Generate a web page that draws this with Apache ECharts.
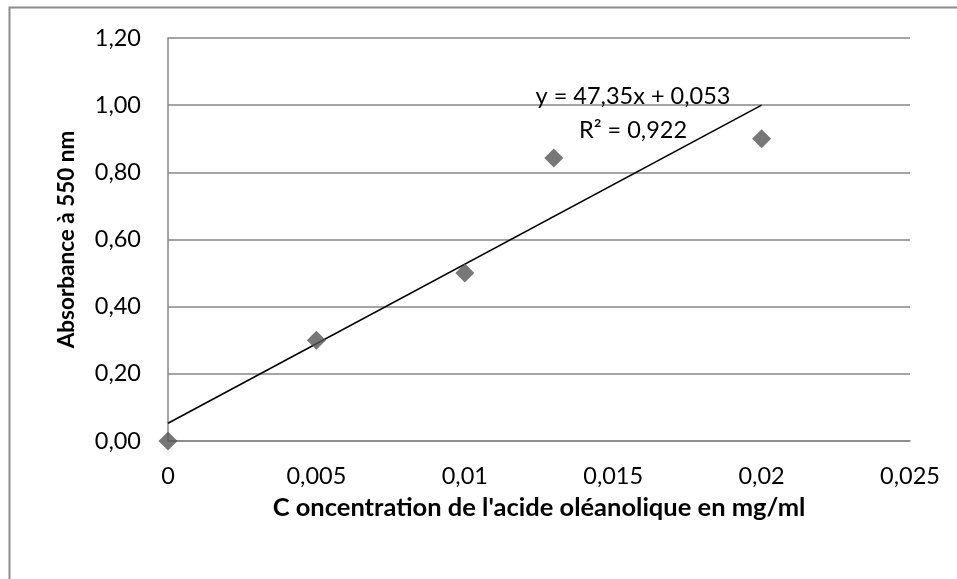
<!DOCTYPE html>
<html>
<head>
<meta charset="utf-8">
<script src="https://cdn.jsdelivr.net/npm/echarts@6/dist/echarts.min.js"></script>
<style>
  html, body { margin: 0; padding: 0; background: #ffffff; }
  #chart { width: 957px; height: 579px; }
</style>
</head>
<body>
<div id="chart"></div>
<script>
// Measured samples: concentration (mg/ml) and absorbance at 550 nm
var concentrations = [0, 0.005, 0.01, 0.013, 0.02];
var absorbances = [0, 0.30, 0.50, 0.843, 0.90];

// Linear fit reported on the chart
var fitSlope = 47.35;
var fitIntercept = 0.053;
var fitRange = [0, 0.02];

// Axis tick labels (French decimal comma)
var xTickLabels = ['0', '0,005', '0,01', '0,015', '0,02', '0,025'];
var yTickLabels = ['0,00', '0,20', '0,40', '0,60', '0,80', '1,00', '1,20'];

var FONT = 'Lato';
var GRID_COLOR = '#868686';

var points = concentrations.map(function (c, i) { return [c, absorbances[i]]; });
var fitLine = fitRange.map(function (x) { return [x, fitSlope * x + fitIntercept]; });

function fmtFit(v, digits) {
  return v.toFixed(digits).replace('.', ',');
}

var chart = echarts.init(document.getElementById('chart'), null, { renderer: 'canvas' });

chart.setOption({
  backgroundColor: '#ffffff',
  animation: false,
  grid: { left: 168, right: 47, top: 38, bottom: 138 },
  xAxis: {
    type: 'value',
    min: 0,
    max: 0.025,
    interval: 0.005,
    name: 'C oncentration de l\'acide oléanolique en mg/ml',
    nameLocation: 'middle',
    nameGap: 54,
    nameTextStyle: { fontFamily: FONT, fontWeight: 'bold', fontSize: 25.5, color: '#000' },
    axisLine: { show: true, lineStyle: { color: GRID_COLOR, width: 1.5 } },
    axisTick: { show: false },
    splitLine: { show: false },
    axisLabel: {
      margin: 23,
      fontFamily: FONT,
      fontSize: 23.5,
      color: '#000',
      formatter: function (v) { return xTickLabels[Math.round(v / 0.005)]; }
    }
  },
  yAxis: {
    type: 'value',
    min: 0,
    max: 1.2,
    interval: 0.2,
    name: 'Absorbance à 550 nm',
    nameLocation: 'middle',
    nameGap: 90,
    nameRotate: 90,
    nameTextStyle: { fontFamily: FONT, fontWeight: 'bold', fontSize: 22.5, color: '#000' },
    axisLine: { show: true, lineStyle: { color: GRID_COLOR, width: 1.5 } },
    axisTick: { show: false },
    splitLine: { show: true, lineStyle: { color: GRID_COLOR, width: 1.5 } },
    axisLabel: {
      margin: 27,
      fontFamily: FONT,
      fontSize: 23.5,
      color: '#000',
      formatter: function (v) { return yTickLabels[Math.round(v / 0.2)]; }
    }
  },
  series: [
    {
      type: 'line',
      data: fitLine,
      symbol: 'none',
      lineStyle: { color: '#000', width: 1.6 },
      z: 2
    },
    {
      type: 'scatter',
      data: points,
      symbol: 'diamond',
      symbolSize: 19,
      itemStyle: { color: '#555555' },
      z: 3
    }
  ],
  graphic: [
    {
      type: 'rect',
      shape: { x: 9.5, y: 7.5, width: 1000, height: 600 },
      style: { fill: 'none', stroke: '#8c8c8c', lineWidth: 2 },
      silent: true
    },
    {
      type: 'text',
      x: 633, y: 96,
      style: {
        text: 'y = ' + fmtFit(fitSlope, 2) + 'x + ' + fmtFit(fitIntercept, 3),
        fontFamily: FONT, fontSize: 23.5, fill: '#000',
        textAlign: 'center', textVerticalAlign: 'middle'
      },
      z: 10
    },
    {
      type: 'text',
      x: 633, y: 130,
      style: {
        text: 'R² = 0,922',
        fontFamily: FONT, fontSize: 23.5, fill: '#000',
        textAlign: 'center', textVerticalAlign: 'middle'
      },
      z: 10
    }
  ]
});
</script>
</body>
</html>
